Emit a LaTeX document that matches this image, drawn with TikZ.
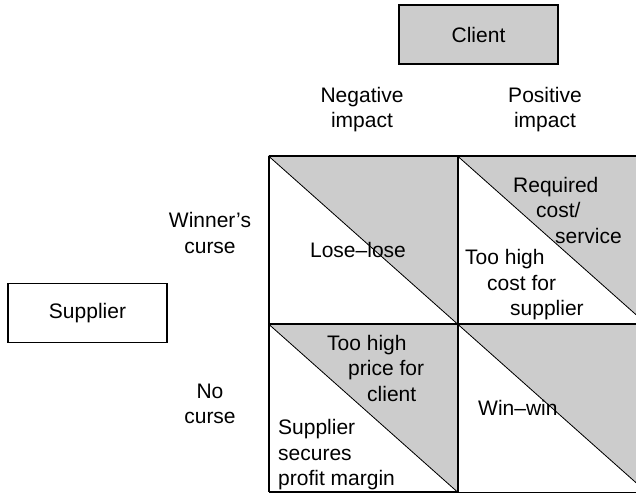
\documentclass[tikz,border=0pt]{standalone}
\usepackage{fontspec}
\setmainfont{Liberation Sans}
\definecolor{shade}{HTML}{CCCCCC}
\begin{document}
\begin{tikzpicture}[x=1pt,y=-1pt,
  lbl/.style={font=\fontsize{21}{25.5}\selectfont, inner sep=0pt},
  ctr/.style={lbl, align=center},
  lft/.style={lbl, align=left, anchor=west},
  party/.style={lbl, draw=black, line width=1.2pt, minimum width=159pt, minimum height=59pt},
  gridline/.style={line width=2pt},
  diag/.style={line width=0.8pt},
  tri/.style={fill=shade}]
\useasboundingbox (0,0) rectangle (636,495);
\begin{scope}
\clip (0,0) rectangle (636,495);
% grid corners
\coordinate (tl) at (268.5,156);
\coordinate (tm) at (457.5,156);
\coordinate (tr) at (646.5,156);
\coordinate (ml) at (268.5,324);
\coordinate (mm) at (457.5,324);
\coordinate (mr) at (646.5,324);
\coordinate (bl) at (268.5,492);
\coordinate (bm) at (457.5,492);
\coordinate (br) at (646.5,492);
% shaded upper-right halves of the four cells
\fill[tri] (tl) -- (tm) -- (mm) -- cycle;
\fill[tri] (tm) -- (tr) -- (mr) -- cycle;
\fill[tri] (ml) -- (mm) -- (bm) -- cycle;
\fill[tri] (mm) -- (mr) -- (br) -- cycle;
% cell diagonals
\draw[diag] (tl) -- (mm);
\draw[diag] (tm) -- (mr);
\draw[diag] (ml) -- (bm);
\draw[diag] (mm) -- (br);
% grid lines
\draw[gridline] (tl) -- (tr);
\draw[gridline] (ml) -- (mr);
\draw[gridline] (bl) -- (bm);
\draw[line width=1pt] (bm) -- (br);
\draw[gridline] (tl) -- (bl);
\draw[gridline] (tm) -- (bm);
\end{scope}
% parties
\node[party, fill=shade] (client) at (478.5,34.5) {Client};
\node[party, fill=white] (supplier) at (87.5,313) {Supplier};
% axis headings
\node[ctr] (neg) at (362,109.5) {Negative\\impact};
\node[ctr] (pos) at (545,109.5) {Positive\\impact};
\node[ctr] (wc) at (210,233) {Winner’s\\curse};
\node[ctr] (nc) at (210,404) {No\\curse};
% cell texts
\node[lbl] (ll) at (358,250) {Lose–lose};
\node[lft] (req) at (513,210) {Required\\\hspace*{23pt}cost/\\\hspace*{42pt}service};
\node[lft] (thc) at (465,285) {Too high\\\hspace*{22pt}cost for\\\hspace*{45pt}supplier};
\node[lft] (thp) at (327,368) {Too high\\\hspace*{21pt}price for\\\hspace*{40pt}client};
\node[lft] (ssp) at (278,455) {Supplier\\secures\\profit margin};
\node[lft] (ww) at (478,408) {Win–win};
\end{tikzpicture}
\end{document}
